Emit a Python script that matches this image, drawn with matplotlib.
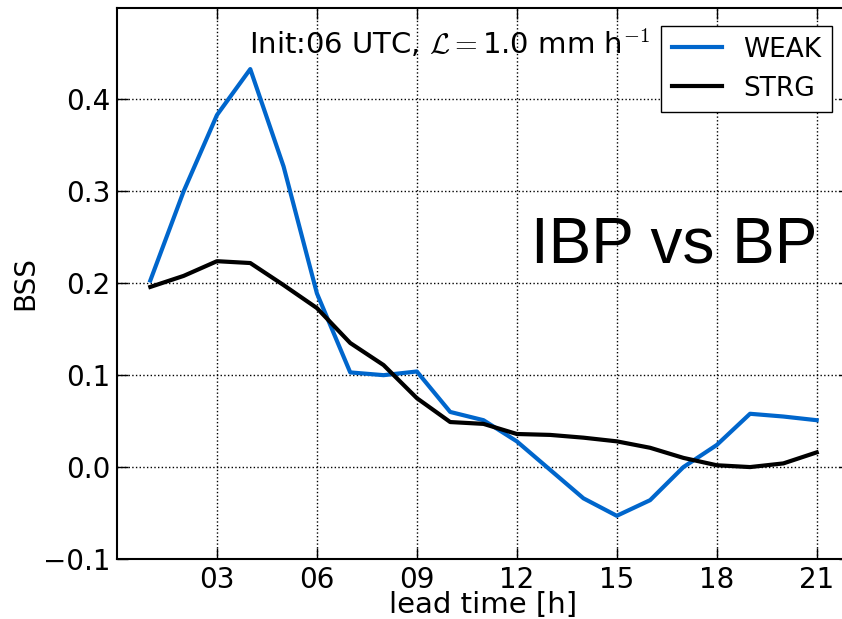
import numpy as np
import matplotlib
matplotlib.use('Agg')
import matplotlib.pyplot as plt

hours = np.arange(1, 22)
weak = [0.203, 0.300, 0.383, 0.433, 0.327, 0.189, 0.103, 0.100, 0.104, 0.060,
        0.051, 0.028, -0.003, -0.034, -0.053, -0.036, 0.000, 0.024, 0.058, 0.055, 0.051]
strg = [0.196, 0.208, 0.224, 0.222, 0.198, 0.173, 0.135, 0.111, 0.075, 0.049,
        0.047, 0.036, 0.035, 0.032, 0.028, 0.021, 0.010, 0.002, 0.000, 0.004, 0.016]
xticks = [3, 6, 9, 12, 15, 18, 21]
xticklabels = ['03', '06', '09', '12', '15', '18', '21']
yticks = [-0.1, 0.0, 0.1, 0.2, 0.3, 0.4]
yticklabels = ['\u22120.1', '0.0', '0.1', '0.2', '0.3', '0.4']

plt.rcParams['mathtext.fontset'] = 'cm'
fig = plt.figure(figsize=(8.42, 6.19), dpi=100)
# axes runs past the right edge of the figure, as in the reference
ax = fig.add_axes([117/842, 1 - 559/619, (850-117)/842, (559-7.5)/619])

ax.plot(hours, weak, color='#0066cc', lw=3, label='WEAK')
ax.plot(hours, strg, color='black', lw=3, label='STRG')

ax.set_xlim(0, 22)
ax.set_ylim(-0.1, 0.5)
ax.set_xticks(xticks)
ax.set_xticklabels(xticklabels)
ax.set_yticks(yticks)
ax.set_yticklabels(yticklabels)
ax.tick_params(direction='in', top=True, right=True, length=8, width=1,
               labelsize=20, pad=5)
ax.grid(True, color='black', linestyle=':', lw=1)
for sp in ax.spines.values():
    sp.set_linewidth(1.5)

ax.set_xlabel('lead time [h]', fontsize=21, labelpad=-2)
ax.set_ylabel('BSS', fontsize=20)
ax.yaxis.set_label_coords((39 - 117) / 733, 0.5)

ax.text(249/842, 1 - 28/619, r'Init:06 UTC, $\mathcal{L}=$1.0 mm h$^{-1}$',
        transform=fig.transFigure, ha='left', va='top', fontsize=21)

leg = ax.legend(loc='upper right', fontsize=19, fancybox=False, framealpha=1,
                edgecolor='black', handlelength=1.9, borderaxespad=0.7,
                labelspacing=0.5)
leg.get_frame().set_linewidth(1)

fig.text(531/842, 1 - 263/619, 'IBP vs BP', fontsize=46,
         family='Liberation Sans', ha='left', va='baseline')

fig.savefig('out.png', dpi=100)
